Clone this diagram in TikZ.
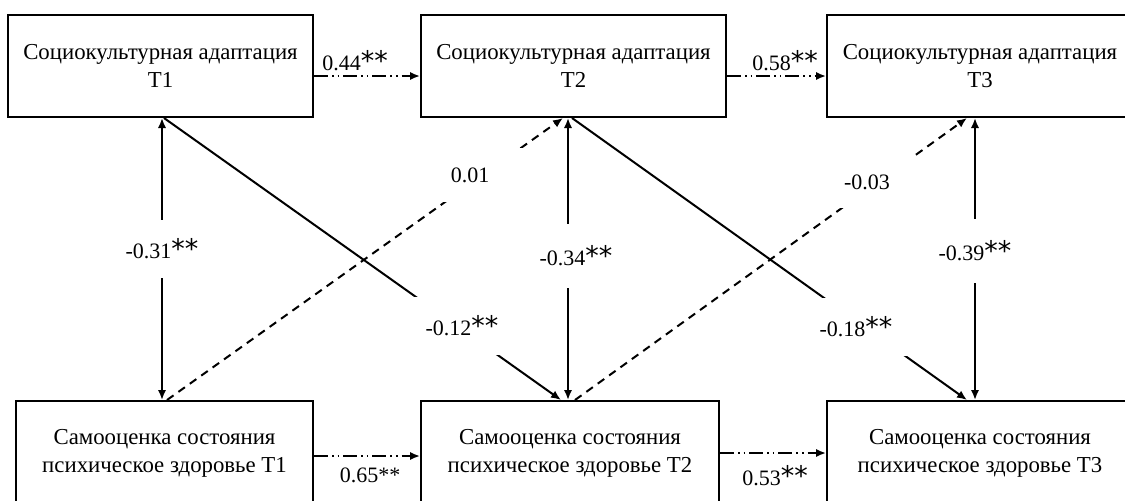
\documentclass[tikz,border=0pt]{standalone}
\usepackage{fontspec}
\setmainfont{Liberation Serif}
\newfontfamily\astf{DejaVu Sans}
\newcommand{\bigast}{{\astf\fontsize{13.5}{14}\selectfont**}}
\usetikzlibrary{arrows.meta,calc}
\begin{document}
\begin{tikzpicture}[x=0.5pt,y=-0.5pt,
  box/.style={draw,line width=1pt,inner sep=0pt,align=center,
    font=\fontsize{11.4}{14}\selectfont,minimum height=51pt},
  tip/.tip={Latex[length=5pt,width=4.2pt]},
  arr/.style={line width=1pt,-tip},
  dd/.style={arr,dash pattern=on 7pt off 2pt on 0.8pt off 2pt on 0.8pt off 2pt},
  dsh/.style={arr,dash pattern=on 4pt off 3pt},
  dbl/.style={line width=1pt,tip-tip},
  lbl/.style={fill=white,inner sep=0pt,font=\fontsize{11}{13}\selectfont,
    minimum width=60pt,minimum height=29pt},
  num/.style={inner sep=0pt,font=\fontsize{11}{13}\selectfont}
]
\useasboundingbox (0,0) rectangle (1125,500);
\clip (0,0) rectangle (1125,500);
\fill[white] (0,0) rectangle (1125,500);

% boxes
\node[box,minimum width=152.5pt] (b1) at (160.5,66) {Социокультурная адаптация\\T1};
\node[box,minimum width=152.5pt] (b2) at (573.5,66) {Социокультурная адаптация\\T2};
\node[box,minimum width=153pt] (b3) at (980,66) {Социокультурная адаптация\\T3};
\node[box,minimum width=148.5pt,minimum height=52pt] (b4) at (164.5,453) {Самооценка состояния\\психическое здоровье T1};
\node[box,minimum width=149pt,minimum height=52pt] (b5) at (570,453) {Самооценка состояния\\психическое здоровье T2};
\node[box,minimum width=153pt,minimum height=52pt] (b6) at (980,453) {Самооценка состояния\\психическое здоровье T3};

% horizontal paths
\draw[dd] ($(b1.east)+(0,10)$) -- ($(b2.west)+(0,10)$);
\draw[dd] ($(b2.east)+(0,10)$) -- ($(b3.west)+(0,10)$);
\draw[dd] ($(b4.east)+(0,3)$) -- ($(b5.west)+(0,3)$);
\draw[dd] (b5.east) -- (b6.west);

% vertical correlations
\draw[dbl] ($(b1.south)+(1.5,0)$) -- ($(b4.north)+(-2.5,0)$);
\draw[dbl] ($(b2.south)+(-5.5,0)$) -- ($(b5.north)+(-2,0)$);
\draw[dbl] ($(b3.south)+(-5,0)$) -- ($(b6.north)+(-5,0)$);

% cross-lagged paths
\draw[arr] ($(b1.south)+(3.5,0)$) -- ($(b5.north)+(-9,0)$);
\draw[dsh] ($(b4.north)+(2.5,0)$) -- ($(b2.south)+(-10.5,0)$);
\draw[arr] ($(b2.south)+(-1.5,0)$) -- ($(b6.north)+(-13,0)$);
\draw[dsh] ($(b5.north)+(5,0)$) -- ($(b3.south)+(-13,0)$);

% labels
\node[num] (h1) at (355,61) {0.44\bigast};
\node[num] (h2) at (785,61) {0.58\bigast};
\node[num] (h3) at (370,475) {0.65**};
\node[num] (h4) at (775,476) {0.53\bigast};

\node[lbl] (c1) at (162,249) {-0.31\bigast};
\node[lbl,minimum height=32pt] (c2) at (576,256) {-0.34\bigast};
\node[lbl,minimum height=32pt] (c3) at (975,251) {-0.39\bigast};

\node[lbl] (x1) at (462,326) {-0.12\bigast};
\node[lbl] (x2) at (856,327) {-0.18\bigast};
\node[lbl,minimum width=55pt,minimum height=27pt] (x3) at (470,175) {0.01};
\node[lbl,minimum width=55pt,minimum height=26pt] (x4) at (867,182) {-0.03};
\end{tikzpicture}
\end{document}
